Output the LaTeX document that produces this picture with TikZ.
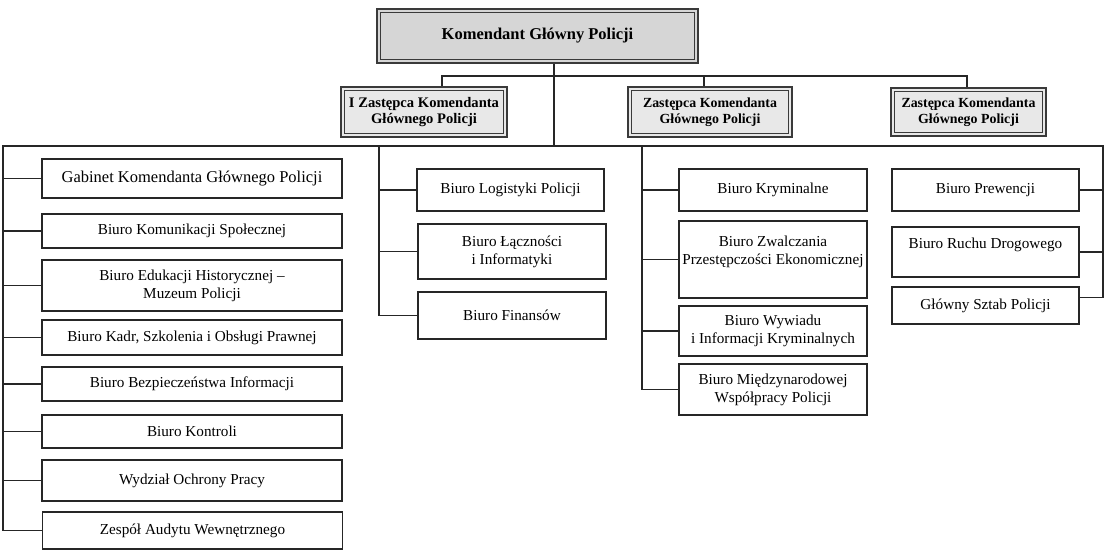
\documentclass[tikz,border=0pt]{standalone}
\usepackage{fontspec}
\setmainfont{Liberation Serif}
\definecolor{lc}{HTML}{262626}
\definecolor{hl}{HTML}{3A3A3A}
\definecolor{hd1}{HTML}{D6D6D6}
\definecolor{hd2}{HTML}{E8E8E8}
\begin{document}
\begin{tikzpicture}[x=1pt,y=-1pt,
  wh/.style 2 args={minimum width=#1pt, minimum height=#2pt},
  box/.style={draw=lc, line width=1.3pt, fill=white, inner sep=0pt, align=center,
    font=\fontsize{15.2}{18}\selectfont},
  head/.style={draw=hl, line width=2.6pt, inner sep=0pt, align=center,
    path picture={\draw[line width=0.7pt, draw=hl]
      ([shift={(3.2pt,3.2pt)}]path picture bounding box.south west) rectangle
      ([shift={(-3.2pt,-3.2pt)}]path picture bounding box.north east);}},
  zfont/.style={font=\bfseries\fontsize{13.9}{16.5}\selectfont},
  conn/.style={draw=lc, line width=1.2pt, line cap=rect, line join=miter}]
\useasboundingbox (0,0) rectangle (1106,556);
\fill[white] (0,0) rectangle (1106,556);

% heads
\node[head, fill=hd1, wh={321}{54}, font=\bfseries\fontsize{16.5}{20}\selectfont] (kgp) at (537.5,36) {Komendant Główny Policji};
\node[head, fill=hd2, wh={166}{50}, font=\bfseries\fontsize{14.6}{16.5}\selectfont] (z1) at (424,112) {I Zastępca Komendanta\\Głównego Policji};
\node[head, fill=hd2, wh={164}{50}, zfont] (z2) at (710,112) {Zastępca Komendanta\\Głównego Policji};
\node[head, fill=hd2, wh={155}{48}, zfont] (z3) at (968.5,112) {Zastępca Komendanta\\Głównego Policji};

% left column
\node[box, wh={300}{39}, font=\fontsize{16.5}{19}\selectfont] (gab) at (192,178.5) {Gabinet Komendanta Głównego Policji};
\node[box, wh={300}{34}] (kom) at (192,231) {Biuro Komunikacji Społecznej};
\node[box, wh={300}{51}] (edu) at (192,285.5) {Biuro Edukacji Historycznej –\\Muzeum Policji};
\node[box, wh={300}{35}] (kadr) at (192,337.5) {Biuro Kadr, Szkolenia i Obsługi Prawnej};
\node[box, wh={300}{34}] (bezp) at (192,384) {Biuro Bezpieczeństwa Informacji};
\node[box, wh={300}{33}] (kontr) at (192,431.5) {Biuro Kontroli};
\node[box, wh={300}{41}] (wydz) at (192,480.5) {Wydział Ochrony Pracy};
\node[box, wh={300}{37}] (zesp) at (192.5,530.5) {Zespół Audytu Wewnętrznego};

% middle column
\node[box, wh={187}{42}] (log) at (510.5,190) {Biuro Logistyki Policji};
\node[box, wh={188}{55}] (lacz) at (512,251.5) {Biuro Łączności\\i Informatyki};
\node[box, wh={188}{47}] (fin) at (512,315.5) {Biuro Finansów};

% third column
\node[box, wh={188}{42}] (kry) at (773,190) {Biuro Kryminalne};
\node[box, wh={188}{77}] (zwal) at (773,259.5) {Biuro Zwalczania\\Przestępczości Ekonomicznej\\\mbox{}};
\node[box, wh={188}{50}] (wyw) at (773,331) {Biuro Wywiadu\\i Informacji Kryminalnych};
\node[box, wh={188}{51}] (miedz) at (773,389.5) {Biuro Międzynarodowej\\Współpracy Policji};

% fourth column
\node[box, wh={187}{42}] (prew) at (985.5,190) {Biuro Prewencji};
\node[box, wh={187}{50}] (ruch) at (985.5,252) {Biuro Ruchu Drogowego\\\mbox{}};
\node[box, wh={187}{37}] (sztab) at (985.5,305.5) {Główny Sztab Policji};

% connector coordinates
\coordinate (xk) at (554,0);
\coordinate (hub) at (554,146);
\coordinate (L) at (3,146);
\coordinate (R) at (1103,146);
\coordinate (M) at (379,146);
\coordinate (T) at (642,146);
\coordinate (a1) at (442,76);
\coordinate (a2) at (704,76);
\coordinate (a3) at (967,76);

% connectors
\draw[conn] (kgp.south -| xk) -- (hub);
\draw[conn] (a1 |- z1.north) -- (a1) -- (a3) -- (a3 |- z3.north);
\draw[conn] (a2) -- (a2 |- z2.north);
\draw[conn] (zesp.west) -| (L) -- (R) |- ([yshift=8pt]sztab.east);
\foreach \n in {gab,kom,edu,kadr,bezp,kontr,wydz}
  \draw[conn] (L) |- (\n.west);
\foreach \n in {log,lacz,fin}
  \draw[conn] (M) |- (\n.west);
\foreach \n in {kry,zwal,wyw,miedz}
  \draw[conn] (T) |- (\n.west);
\foreach \n in {prew,ruch}
  \draw[conn] (R) |- (\n.east);
\end{tikzpicture}
\end{document}
